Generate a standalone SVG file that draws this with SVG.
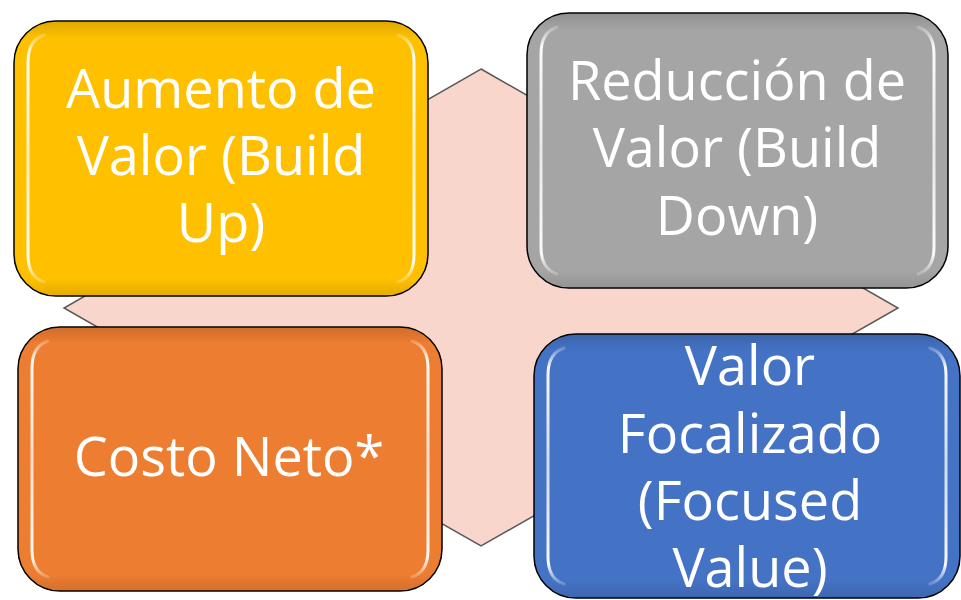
<svg xmlns="http://www.w3.org/2000/svg" width="961" height="600" viewBox="0 0 961 600">
  <defs>
    <linearGradient id="hlv" x1="0" y1="0" x2="0" y2="1">
      <stop offset="0" stop-color="#fff" stop-opacity="0.2"/>
      <stop offset="0.08" stop-color="#fff" stop-opacity="0.95"/>
      <stop offset="0.5" stop-color="#fff" stop-opacity="0.75"/>
      <stop offset="0.92" stop-color="#fff" stop-opacity="0.95"/>
      <stop offset="1" stop-color="#fff" stop-opacity="0.2"/>
    </linearGradient>
    <linearGradient id="shade" x1="0" y1="0" x2="0" y2="1">
      <stop offset="0" stop-color="#000" stop-opacity="0.12"/>
      <stop offset="0.06" stop-color="#000" stop-opacity="0"/>
      <stop offset="0.94" stop-color="#000" stop-opacity="0"/>
      <stop offset="1" stop-color="#000" stop-opacity="0.1"/>
    </linearGradient>
  </defs>
  <style>
    .box { stroke: #000; stroke-width: 1.5; }
    .shade { fill: url(#shade); stroke: none; }
    .hl { fill: none; stroke: url(#hlv); stroke-width: 3; stroke-linecap: round; }
    .lbl { font-family: "Open Sans", "Noto Sans", sans-serif; font-size: 54px; fill: #fff; text-anchor: middle; }
  </style>
  <rect width="961" height="600" fill="#fff"/>
  <g id="background">
    <polygon points="481,69 898,308 481,546 64,308" fill="#F8D6CC" stroke="#595959" stroke-width="1.5"/>
  </g>
  <g id="connectors"></g>
  <g id="node-build-up">
    <rect class="box" x="14" y="21" width="414" height="275" rx="42" fill="#FFC000"/>
    <rect class="shade" x="15" y="22" width="412" height="273" rx="41"/>
    <path class="hl" d="M44,35 Q28,40 28,62 L28,255 Q28,277 44,282"/>
    <path class="hl" d="M398,35 Q414,40 414,62 L414,255 Q414,277 398,282"/>
    <text class="lbl"><tspan x="221" y="108">Aumento de</tspan><tspan x="221" y="175">Valor (Build</tspan><tspan x="221" y="242">Up)</tspan></text>
  </g>
  <g id="node-build-down">
    <rect class="box" x="527" y="13" width="421" height="275" rx="42" fill="#A5A5A5"/>
    <rect class="shade" x="528" y="14" width="419" height="273" rx="41"/>
    <path class="hl" d="M557,27 Q541,32 541,54 L541,247 Q541,269 557,274"/>
    <path class="hl" d="M918,27 Q934,32 934,54 L934,247 Q934,269 918,274"/>
    <text class="lbl"><tspan x="737" y="100">Reducción de</tspan><tspan x="737" y="167">Valor (Build</tspan><tspan x="737" y="235">Down)</tspan></text>
  </g>
  <g id="node-costo-neto">
    <rect class="box" x="18" y="327" width="424" height="264" rx="42" fill="#ED7D31"/>
    <rect class="shade" x="19" y="328" width="422" height="262" rx="41"/>
    <path class="hl" d="M48,341 Q32,346 32,368 L32,550 Q32,572 48,577"/>
    <path class="hl" d="M412,341 Q428,346 428,368 L428,550 Q428,572 412,577"/>
    <text class="lbl" x="229" y="476">Costo Neto*</text>
  </g>
  <g id="node-focused-value">
    <rect class="box" x="534" y="334" width="426" height="264" rx="42" fill="#4472C4"/>
    <rect class="shade" x="535" y="335" width="424" height="262" rx="41"/>
    <path class="hl" d="M564,348 Q548,353 548,375 L548,557 Q548,579 564,584"/>
    <path class="hl" d="M930,348 Q946,353 946,375 L946,557 Q946,579 930,584"/>
    <text class="lbl"><tspan x="750" y="385">Valor</tspan><tspan x="750" y="453">Focalizado</tspan><tspan x="750" y="520">(Focused</tspan><tspan x="750" y="587">Value)</tspan></text>
  </g>
</svg>
